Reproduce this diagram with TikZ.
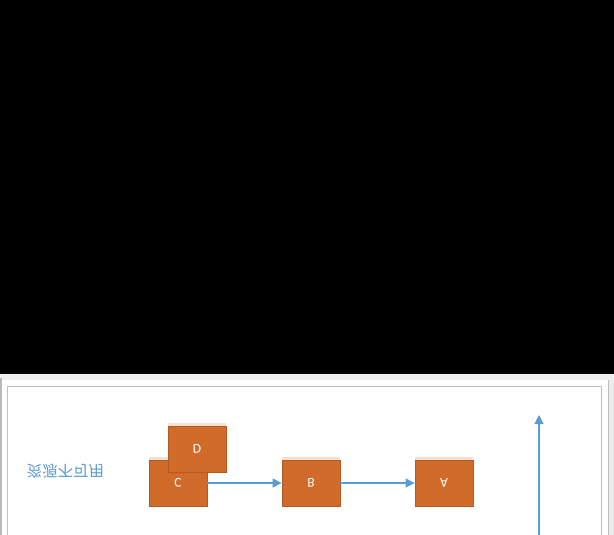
\documentclass[tikz,border=0pt]{standalone}
\usepackage{fontspec}
\setmainfont{Carlito}
\newfontfamily\cjk{Noto Sans CJK SC}
\usetikzlibrary{arrows.meta,shadows}
\definecolor{boxorange}{HTML}{D06B2A}
\definecolor{boxedge}{HTML}{B35A22}
\definecolor{linkblue}{HTML}{5B9BD5}
\tikzset{
  orangebox/.style={rectangle, fill=boxorange, draw=boxedge, line width=0.8pt,
    minimum width=58pt, minimum height=46pt, inner sep=0pt, text=white,
    font=\fontsize{13.5}{15}\selectfont,
    drop shadow={shadow xshift=0pt, shadow yshift=3pt, fill=boxorange!40, opacity=0.5}},
  link/.style={draw=linkblue, line width=1.1pt, -{Triangle[length=9pt,width=9pt]}},
  framegray/.style={draw=gray!50, line width=1pt}
}
\begin{document}
\begin{tikzpicture}[x=1pt,y=-1pt]
\useasboundingbox (0,0) rectangle (614,535);
% window background
\fill[black] (0,0) rectangle (614,374);
\fill[gray!12] (0,374) rectangle (614,380);
\fill[white] (2,380) rectangle (608,535);
\fill[gray!15] (609,380) rectangle (614,535);
\draw[gray!55, line width=1.5pt] (0.75,378) -- (0.75,535);
\draw[framegray] (608,380) -- (608,535);
\draw[framegray] (7.5,540) -- (7.5,386.5) -- (601,386.5) -- (601,540);
% caption
\node[text=linkblue, font=\cjk\fontsize{15.5}{18}\selectfont, inner sep=0pt] (cap) at (65.5,471) {\scalebox{1}[-1]{资源不可用}};
% boxes
\node[orangebox] (C) at (178,483) {\scalebox{1}[-1]{C}};
\node[orangebox] (D) at (197,449) {\scalebox{1}[-1]{D}};
\node[orangebox] (B) at (311,483) {\scalebox{1}[-1]{B}};
\node[orangebox] (A) at (444,483) {\scalebox{1}[-1]{A}};
% connectors
\draw[link] (C.east) -- (B.west);
\draw[link] (B.east) -- (A.west);
\coordinate (up0) at (539,536);
\coordinate (up1) at (539,415);
\draw[link] (up0) -- (up1);
\end{tikzpicture}
\end{document}
